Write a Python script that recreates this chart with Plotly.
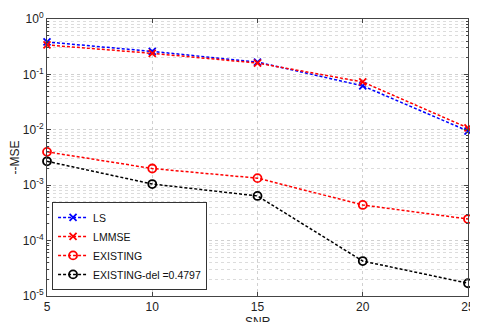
import plotly.graph_objects as go

snr = [5, 10, 15, 20, 25]
ls_mse = [0.385, 0.26, 0.167, 0.062, 0.0095]
lmmse_mse = [0.34, 0.24, 0.16, 0.073, 0.0108]
existing_mse = [0.0040, 0.0020, 0.00134, 0.00044, 0.000245]
existing_del_mse = [0.0027, 0.00105, 0.00064, 0.0000427, 0.000017]

x_ticks = [5, 10, 15, 20, 25]
y_tick_vals = [1e-5, 1e-4, 1e-3, 1e-2, 1e-1, 1]
y_tick_text = ["10<sup>-5</sup>", "10<sup>-4</sup>", "10<sup>-3</sup>",
               "10<sup>-2</sup>", "10<sup>-1</sup>", "10<sup>0</sup>"]
minor_vals = [m * 10.0 ** e for e in range(-5, 0) for m in range(2, 10)]

series = [
    ("LS", ls_mse, "blue", "x-thin-open", 7),
    ("LMMSE", lmmse_mse, "red", "x-thin-open", 7),
    ("EXISTING", existing_mse, "red", "circle-open", 8),
    ("EXISTING-del =0.4797", existing_del_mse, "black", "circle-open", 8),
]

fig = go.Figure()
for name, vals, color, sym, sz in series:
    fig.add_trace(go.Scatter(
        x=snr, y=vals, name=name, mode="lines+markers",
        line=dict(color=color, width=1.5, dash="3px,2px"),
        marker=dict(symbol=sym, size=sz, color=color,
                    line=dict(color=color, width=1.8)),
        cliponaxis=False,
    ))

font = "Liberation Sans, Arial, Helvetica, sans-serif"
fig.update_layout(
    width=462, height=314,
    margin=dict(l=39, r=2, t=11, b=26),
    paper_bgcolor="white", plot_bgcolor="white",
    font=dict(family=font, size=12, color="#222"),
    showlegend=True,
    legend=dict(x=0.012, y=0.022, xanchor="left", yanchor="bottom",
                bgcolor="white", bordercolor="#333", borderwidth=1,
                font=dict(size=10.5, color="#111"),
                tracegroupgap=0, itemwidth=30),
    xaxis=dict(
        range=[5, 25], tickvals=x_ticks, ticks="inside", ticklen=4,
        showline=True, linecolor="#444", linewidth=1, mirror="ticks",
        showgrid=True, gridcolor="#d0d0d0", griddash="dot", gridwidth=1,
        zeroline=False, tickfont=dict(size=12, color="#222"),
        automargin=False, ticklabeloverflow="allow",
    ),
    yaxis=dict(
        type="log", range=[-5, 0], tickvals=y_tick_vals, ticktext=y_tick_text,
        ticks="inside", ticklen=4,
        showline=True, linecolor="#444", linewidth=1, mirror="ticks",
        showgrid=True, gridcolor="#d0d0d0", griddash="dot", gridwidth=1,
        zeroline=False, tickfont=dict(size=12, color="#222"),
        automargin=False, ticklabeloverflow="allow",
        title=dict(text="--MSE", standoff=2, font=dict(size=12)),
        minor=dict(tickvals=minor_vals, showgrid=True, gridcolor="#dcdcdc",
                   griddash="dot", ticks="inside", ticklen=2, tickcolor="#444"),
    ),
    annotations=[dict(text="SNR", xref="paper", yref="paper", x=0.5, y=-0.062,
                      xanchor="center", yanchor="top", showarrow=False,
                      font=dict(size=12, color="#222"))],
)

fig.write_html("out.html")
